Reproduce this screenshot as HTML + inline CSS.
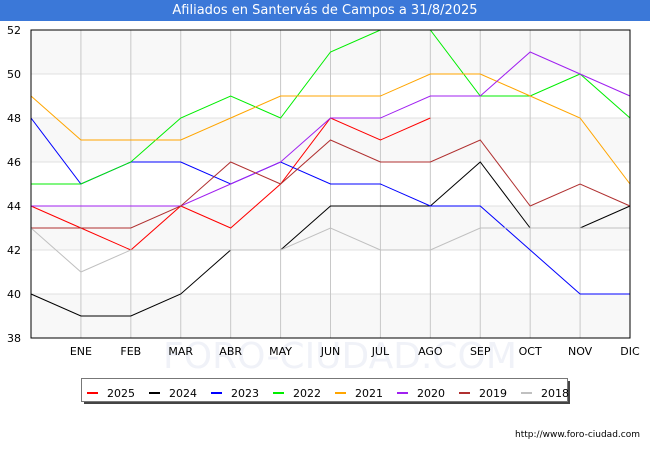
<!DOCTYPE html>
<html><head><meta charset="utf-8"><style>
body{margin:0;background:#fff;font-family:"DejaVu Sans","Liberation Sans",sans-serif}
#wrap{position:relative;width:650px;height:450px;overflow:hidden}
#title{position:absolute;left:0;top:0;width:650px;height:21px;background:#3b78d8;color:#fff;font-size:13px;line-height:21px;text-align:center}
</style></head><body>
<div id="wrap">
<svg id="svg" width="650" height="450" style="position:absolute;left:0;top:0"></svg>
<div id="title">Afiliados en Santervás de Campos a 31/8/2025</div>
</div>
<script>
const months=["","ENE","FEB","MAR","ABR","MAY","JUN","JUL","AGO","SEP","OCT","NOV","DIC"];
const yTicks=[38,40,42,44,46,48,50,52];
const years=["2025","2024","2023","2022","2021","2020","2019","2018"];
const colors=["#ff0000","#000000","#0000ff","#00ee00","#ffa500","#a020f0","#b03030","#c0c0c0"];
const s2025=[44,43,42,44,43,45,48,47,48];
const s2024=[40,39,39,40,42,42,44,44,44,46,43,43,44];
const s2023=[48,45,46,46,45,46,45,45,44,44,42,40,40];
const s2022=[45,45,46,48,49,48,51,52,52,49,49,50,48];
const s2021=[49,47,47,47,48,49,49,49,50,50,49,48,45];
const s2020=[44,44,44,44,45,46,48,48,49,49,51,50,49];
const s2019=[43,43,43,44,46,45,47,46,46,47,44,45,44];
const s2018=[43,41,42,42,42,42,43,42,42,43,43,43,43];
const series=[s2025,s2024,s2023,s2022,s2021,s2020,s2019,s2018];
const L=31,R=630,T=30,B=338;
const x=i=>L+(R-L)*i/12;
const y=v=>B-(v-38)*(B-T)/14;
const svg=document.getElementById('svg');const NS="http://www.w3.org/2000/svg";
function mk(t,a,p){const e=document.createElementNS(NS,t);for(const k in a)e.setAttribute(k,a[k]);(p||svg).appendChild(e);return e;}
for(let k=0;k<7;k++){if(k%2==0){const r=mk('rect',{x:L,y:y(yTicks[k+1]),width:R-L,height:y(yTicks[k])-y(yTicks[k+1]),fill:'#f8f8f8'});}}
const wm=mk('text',{x:340,y:368,'text-anchor':'middle','font-size':36,fill:'#f0f2f8'});wm.textContent='FORO-CIUDAD.COM';

yTicks.forEach(v=>{const l=mk('line',{x1:L,x2:R,y1:y(v),y2:y(v),stroke:'#e0e0e0'});
const t=mk('text',{x:L-10,y:y(v)+4,'text-anchor':'end','font-size':11,fill:'#000'});t.textContent=v;});
months.forEach((m,i)=>{if(i==0)return;const l=mk('line',{x1:x(i),x2:x(i),y1:T,y2:B,stroke:'#c8c8c8'});
const t=mk('text',{x:x(i),y:355,'text-anchor':'middle','font-size':11,fill:'#000'});t.textContent=m;});
for(let k=0;k<series.length;k++){const p=mk('polyline',{points:series[k].map((v,i)=>x(i)+','+y(v)).join(' '),fill:'none',stroke:colors[k],'stroke-width':1});
}
const fr=mk('rect',{x:L,y:T,width:R-L,height:B-T,fill:'none',stroke:'#000'});
mk('rect',{x:84,y:381,width:486,height:23,fill:'#444'});
const lb=mk('rect',{x:81.5,y:378.5,width:486,height:23,fill:'#fff',stroke:'#777'});
years.forEach((yr,k)=>{const g=mk('g',{});
mk('line',{x1:87+62*k,x2:98+62*k,y1:393,y2:393,stroke:colors[k],'stroke-width':2},g);
const t=mk('text',{x:107+62*k,y:397,'font-size':11,fill:'#000'},g);t.textContent=yr;});
const u=mk('text',{x:640,y:437,'text-anchor':'end','font-size':9,fill:'#000'});u.textContent='http://www.foro-ciudad.com';
</script></body></html>
